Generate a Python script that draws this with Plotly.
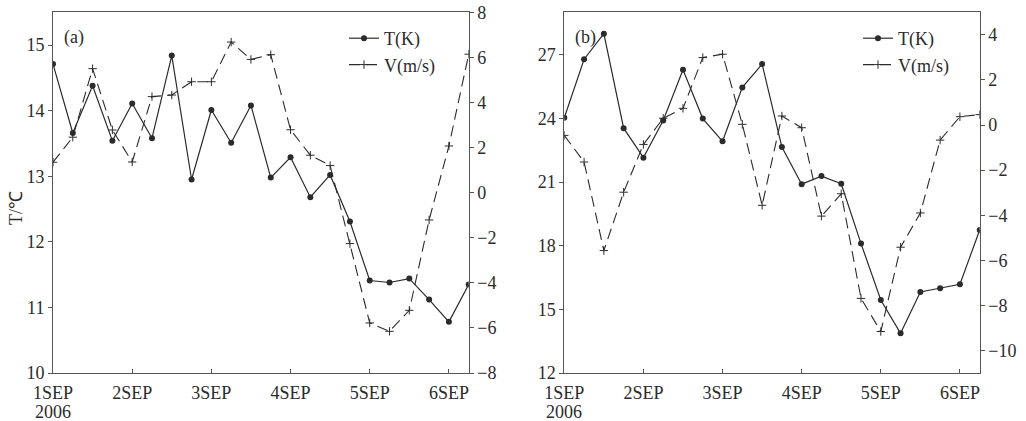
import pandas as pd
import plotly.graph_objects as go

# ---- data ----
times = pd.date_range("2006-09-01 00:00", periods=22, freq="6h")

t_a = [14.71, 13.66, 14.38, 13.54, 14.11, 13.58, 14.84, 12.95, 14.01, 13.51, 14.08,
       12.98, 13.29, 12.68, 13.02, 12.31, 11.41, 11.38, 11.44, 11.12, 10.78, 11.35]
v_a = [1.35, 2.46, 5.50, 2.78, 1.36, 4.26, 4.33, 4.92, 4.92, 6.68, 5.91,
       6.12, 2.79, 1.66, 1.20, -2.26, -5.78, -6.15, -5.22, -1.21, 2.07, 6.14]

t_b = [24.03, 26.79, 27.99, 23.54, 22.15, 23.90, 26.29, 23.99, 22.92, 25.46, 26.56,
       22.65, 20.90, 21.28, 20.92, 18.10, 15.44, 13.87, 15.82, 15.99, 16.18, 18.74]
v_b = [-0.46, -1.64, -5.57, -2.98, -0.86, 0.30, 0.74, 2.99, 3.14, 0.03, -3.56,
       0.40, -0.12, -4.04, -3.05, -7.69, -9.16, -5.42, -3.90, -0.67, 0.37, 0.46]

tick_dates = pd.date_range("2006-09-01", periods=6, freq="D")
tick_text = ["1SEP", "2SEP", "3SEP", "4SEP", "5SEP", "6SEP"]
year_label = "2006"
x_range = [times[0], times[-1]]

FONT = "Liberation Serif, Times New Roman, serif"
INK = "#2b2b2b"
AX = "#555555"
FS = 18

fig = go.Figure()

def add_panel(t, v, xa, ya_t, ya_v, leg):
    fig.add_trace(go.Scatter(
        x=times, y=t, xaxis=xa, yaxis=ya_t, name="T(K)", legend=leg,
        mode="lines+markers",
        line=dict(color=INK, width=1.2),
        marker=dict(symbol="circle", size=6, color=INK),
    ))
    fig.add_trace(go.Scatter(
        x=times, y=v, xaxis=xa, yaxis=ya_v, name="V(m/s)", legend=leg,
        mode="lines+markers",
        line=dict(color=INK, width=1.1, dash="11px,6px"),
        marker=dict(symbol="cross-thin", size=6, color=INK,
                    line=dict(color=INK, width=1)),
    ))

add_panel(t_a, v_a, "x", "y", "y2", "legend")
add_panel(t_b, v_b, "x2", "y3", "y4", "legend2")

dom_a = [53 / 1026, 468.7 / 1026]
dom_b = [564.3 / 1026, 979.7 / 1026]
ydom = [1 - 373 / 421, 1 - 12.3 / 421]

tickfont = dict(family=FONT, size=FS, color=INK)

xcommon = dict(
    type="date", range=x_range, tickvals=list(tick_dates), ticktext=tick_text,
    ticks="inside", ticklen=4, tickcolor=AX, showline=True, linecolor=AX,
    linewidth=1, mirror=True, showgrid=False, zeroline=False,
    tickfont=tickfont, tickangle=0, automargin=False, ticklabelstandoff=3,
)
ycommon = dict(
    ticks="outside", ticklen=4, tickcolor=AX, showline=True, linecolor=AX,
    linewidth=1, showgrid=False, zeroline=False, tickfont=tickfont,
    automargin=False,
)

legfont = dict(family=FONT, size=18, color=INK)
txtfont = dict(family=FONT, size=FS, color=INK)

fig.update_layout(
    width=1026, height=421,
    margin=dict(l=0, r=0, t=0, b=0, autoexpand=False),
    paper_bgcolor="white", plot_bgcolor="white",
    font=dict(family=FONT, size=FS, color=INK),
    xaxis=dict(domain=dom_a, anchor="y", **xcommon),
    xaxis2=dict(domain=dom_b, anchor="y3", **xcommon),
    yaxis=dict(domain=ydom, anchor="x", range=[10, 15.5], tick0=10, dtick=1, **ycommon),
    yaxis2=dict(overlaying="y", anchor="x", side="right", range=[-8, 8],
                tick0=0, dtick=2, **ycommon),
    yaxis3=dict(domain=ydom, anchor="x2", range=[12, 29], tick0=12, dtick=3, **ycommon),
    yaxis4=dict(overlaying="y3", anchor="x2", side="right", range=[-11, 5],
                tick0=0, dtick=2, **ycommon),
    legend=dict(x=344 / 1026, y=1 - 20 / 421, xanchor="left", yanchor="top",
                bgcolor="rgba(0,0,0,0)", font=legfont,
                tracegroupgap=0, itemwidth=30),
    legend2=dict(x=858 / 1026, y=1 - 20 / 421, xanchor="left", yanchor="top",
                 bgcolor="rgba(0,0,0,0)", font=legfont,
                 tracegroupgap=0, itemwidth=30),
    showlegend=True,
    annotations=[
        dict(text="(a)", x=62 / 1026, y=1 - 38 / 421, xref="paper", yref="paper",
             xanchor="left", yanchor="middle", showarrow=False, font=txtfont),
        dict(text="(b)", x=573 / 1026, y=1 - 38 / 421, xref="paper", yref="paper",
             xanchor="left", yanchor="middle", showarrow=False, font=txtfont),
        dict(text="T/℃", x=16 / 1026, y=1 - 208 / 421, xref="paper", yref="paper",
             xanchor="center", yanchor="middle", textangle=-90, showarrow=False,
             font=txtfont),
        dict(text=year_label, x=tick_dates[0], y=1 - 412 / 421, xref="x", yref="paper",
             xanchor="center", yanchor="middle", showarrow=False, font=txtfont),
        dict(text=year_label, x=tick_dates[0], y=1 - 412 / 421, xref="x2", yref="paper",
             xanchor="center", yanchor="middle", showarrow=False, font=txtfont),
    ],
)

fig.write_html("out.html", config={"displayModeBar": False},
               post_script="document.body.style.margin='0';document.body.style.overflow='hidden';")
